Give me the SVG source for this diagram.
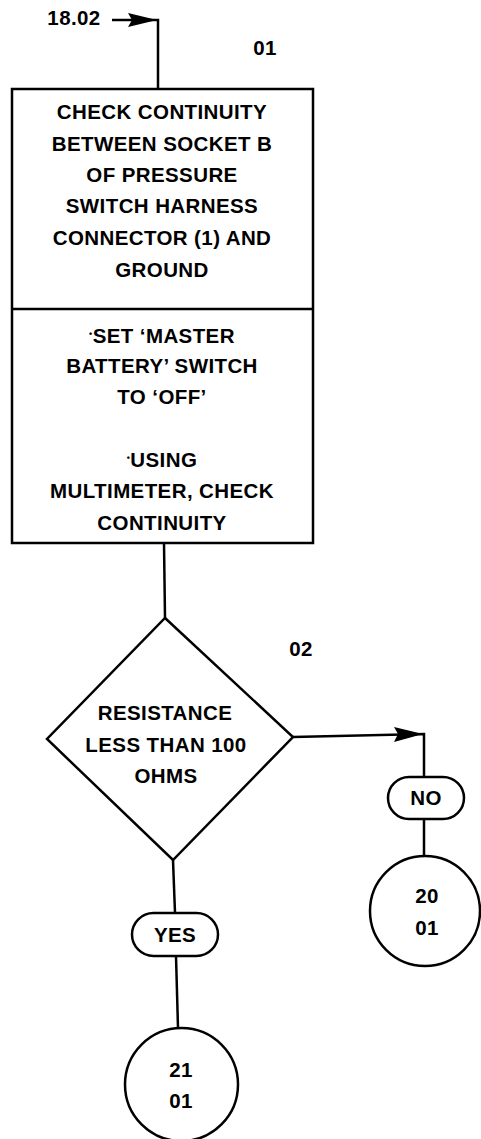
<svg xmlns="http://www.w3.org/2000/svg" width="481" height="1139" viewBox="0 0 481 1139">
<style>
.t{font-family:"Liberation Sans",Arial,sans-serif;font-weight:bold;font-size:20.5px;fill:#000;text-anchor:middle;letter-spacing:0.4px}
.b{font-size:9px;baseline-shift:70%}
.s{fill:#fff;stroke:#000;stroke-width:2.5}
.c{fill:none;stroke:#000;stroke-width:2.5}
.h{fill:#000;stroke:none}
</style>
<rect width="481" height="1139" fill="#fff"/>
<g id="connectors">
<path class="c" d="M112,20 H158 V89"/>
<polygon class="h" points="157,20 128,13 132,20 128,27"/>
<path class="c" d="M164,543 L165,618"/>
<path class="c" d="M293,737 L424,734 V777"/>
<polygon class="h" points="423,734 394,727 398,734 394,742"/>
<path class="c" d="M424,819 V855"/>
<path class="c" d="M173,860 L175,913"/>
<path class="c" d="M176,956 L178,1028"/>
</g>
<g id="entry">
<text class="t" x="74" y="25">18.02</text>
</g>
<g id="step01">
<rect class="s" x="12" y="89" width="301" height="454" stroke-width="3"/>
<line class="c" x1="12" y1="309" x2="313" y2="309"/>
<text class="t" x="265" y="55">01</text>
<text class="t" x="162" y="119">CHECK CONTINUITY</text>
<text class="t" x="162" y="151">BETWEEN SOCKET B</text>
<text class="t" x="162" y="182">OF PRESSURE</text>
<text class="t" x="162" y="213">SWITCH HARNESS</text>
<text class="t" x="162" y="245">CONNECTOR (1) AND</text>
<text class="t" x="162" y="277">GROUND</text>
<text class="t" x="162" y="343"><tspan class="b">•</tspan>SET ‘MASTER</text>
<text class="t" x="162" y="373">BATTERY’ SWITCH</text>
<text class="t" x="162" y="404">TO ‘OFF’</text>
<text class="t" x="162" y="467"><tspan class="b">•</tspan>USING</text>
<text class="t" x="162" y="498">MULTIMETER, CHECK</text>
<text class="t" x="162" y="530">CONTINUITY</text>
</g>
<g id="decision02">
<polygon class="s" points="165,618 293,737 173,860 47,739"/>
<text class="t" x="301" y="656">02</text>
<text class="t" x="165" y="720">RESISTANCE</text>
<text class="t" x="166" y="752">LESS THAN 100</text>
<text class="t" x="166" y="783">OHMS</text>
</g>
<g id="no">
<rect class="s" x="388" y="777" width="76" height="42" rx="21"/>
<text class="t" x="426" y="805">NO</text>
</g>
<g id="goto2001">
<circle class="s" cx="425" cy="911" r="55"/>
<text class="t" x="427" y="903">20</text>
<text class="t" x="427" y="935">01</text>
</g>
<g id="yes">
<rect class="s" x="132" y="913" width="86" height="43" rx="21.5"/>
<text class="t" x="175" y="942">YES</text>
</g>
<g id="goto2101">
<circle class="s" cx="181.5" cy="1084.5" r="56.5"/>
<text class="t" x="181" y="1077">21</text>
<text class="t" x="181" y="1108">01</text>
</g>
</svg>
